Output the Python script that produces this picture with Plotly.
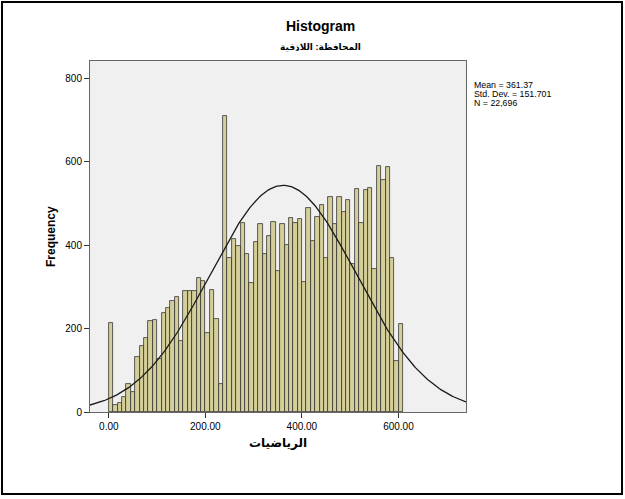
import numpy as np
import plotly.graph_objects as go

# ---- data ----
bin_width = 9.1
counts = [214, 17, 21, 37, 67, 49, 131, 158, 177, 219,
          221, 126, 237, 250, 265, 275, 171, 291, 289, 289,
          321, 313, 190, 293, 222, 67, 710, 369, 414, 398,
          453, 379, 310, 407, 451, 378, 422, 456, 337, 450,
          399, 465, 454, 463, 312, 488, 410, 467, 495, 369,
          514, 450, 514, 479, 509, 354, 534, 453, 533, 537,
          343, 589, 555, 587, 369, 123, 210]
mean_val = 361.37
sd_val = 151.701
n_val = 22696
stats_lines = ["Mean = 361.37", "Std. Dev. = 151.701", "N = 22,696"]
title_text = "Histogram"
subtitle_text = "المحافظة: اللاذقية"
x_title = "الرياضيات"
y_title = "Frequency"
x_ticks = [0, 200, 400, 600]
y_ticks = [0, 200, 400, 600, 800]

x_range = [-39, 740]
y_range = [0, 841]

centers = [(i + 0.5) * bin_width for i in range(len(counts))]

# normal curve from the stated statistics
cx = np.linspace(x_range[0], x_range[1], 300)
cy = n_val * bin_width / (sd_val * np.sqrt(2 * np.pi)) * np.exp(-0.5 * ((cx - mean_val) / sd_val) ** 2)

FONT = "Arial, 'Liberation Sans', 'DejaVu Sans', sans-serif"

W, H = 625, 499
L, R, T, B = 90, 466, 61, 412  # plot area in pixels


def px(x):
    return (x - L) / (R - L)


def py(y):
    return (B - y) / (B - T)


fig = go.Figure()
fig.add_trace(go.Bar(
    x=centers, y=counts, width=bin_width,
    marker=dict(color="#D4CF98", line=dict(color="#333333", width=0.8)),
    hoverinfo="x+y",
))
fig.add_trace(go.Scatter(
    x=cx, y=cy, mode="lines",
    line=dict(color="#1a1a1a", width=1.3),
    hoverinfo="skip",
))

annotations = [
    dict(text="<b>%s</b>" % title_text, x=px(320), y=py(26), xref="paper", yref="paper",
         showarrow=False, font=dict(size=14, family=FONT, color="black"),
         xanchor="center", yanchor="middle"),
    dict(text="<b>%s</b>" % subtitle_text, x=px(320), y=py(47), xref="paper", yref="paper",
         showarrow=False, font=dict(size=9, family=FONT, color="black"),
         xanchor="center", yanchor="middle"),
    dict(text="<b>%s</b>" % x_title, x=px(278), y=py(443), xref="paper", yref="paper",
         showarrow=False, font=dict(size=12, family=FONT, color="black"),
         xanchor="center", yanchor="middle"),
    dict(text="<b>%s</b>" % y_title, x=px(51), y=py(237), xref="paper", yref="paper",
         showarrow=False, font=dict(size=12, family=FONT, color="black"),
         xanchor="center", yanchor="middle", textangle=-90),
]
for i, line in enumerate(stats_lines):
    annotations.append(dict(text=line, x=px(472), y=py(85 + 9.2 * i), xref="paper", yref="paper",
                            showarrow=False, font=dict(size=8.8, family=FONT, color="black"),
                            xanchor="left", yanchor="middle"))

shapes = [
    dict(type="rect", xref="paper", yref="paper",
         x0=px(2), x1=px(622), y0=py(494), y1=py(2),
         line=dict(color="black", width=2), fillcolor="rgba(0,0,0,0)", layer="above"),
]

fig.update_layout(
    width=W, height=H,
    margin=dict(l=L, r=W - R, t=T, b=H - B, pad=0),
    paper_bgcolor="white", plot_bgcolor="#F0F0F0",
    bargap=0, showlegend=False,
    annotations=annotations, shapes=shapes,
    font=dict(family=FONT, size=10, color="black"),
)
fig.update_xaxes(
    range=x_range, tickvals=x_ticks, tickformat=".2f",
    ticks="outside", ticklen=5, tickcolor="#333", tickwidth=1,
    showline=True, linecolor="#666", linewidth=1, mirror=True,
    showgrid=False, zeroline=False, tickfont=dict(size=10, family=FONT, color="black"),
)
fig.update_yaxes(
    range=y_range, tickvals=y_ticks,
    ticks="outside", ticklen=5, tickcolor="#333", tickwidth=1,
    showline=True, linecolor="#666", linewidth=1, mirror=True,
    showgrid=False, zeroline=False, tickfont=dict(size=10, family=FONT, color="black"),
)

fig.write_html("out.html", config={"displayModeBar": False},
               post_script="document.body.style.margin='0';document.body.style.overflow='hidden';")
